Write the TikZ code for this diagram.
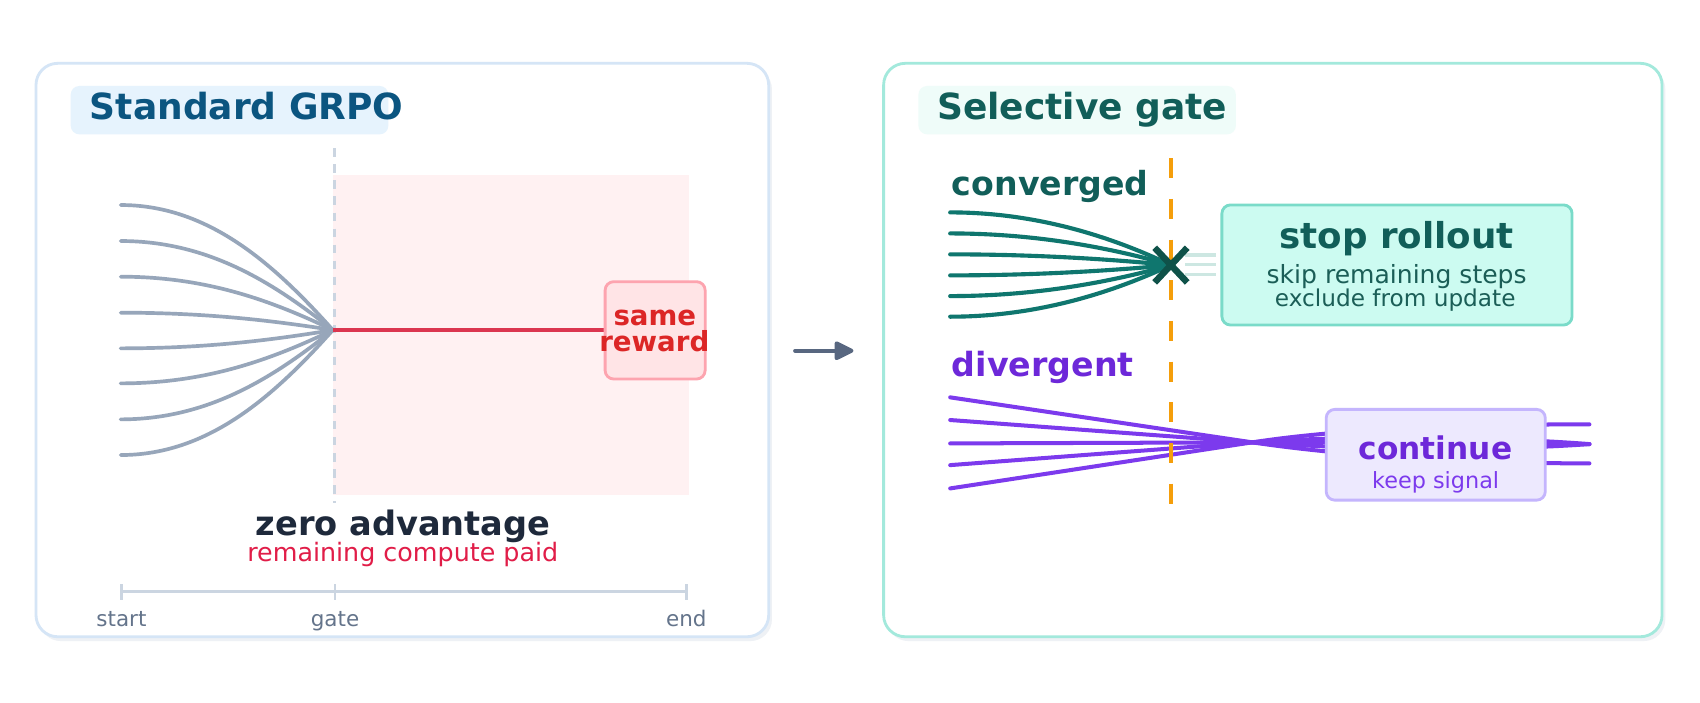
\documentclass[tikz,border=0pt]{standalone}
\usepackage{fontspec}
\setmainfont{DejaVu Sans}
\usetikzlibrary{arrows.meta}
\newcommand\myfs[1]{\fontsize{#1}{#1}\selectfont}
\definecolor{bordL}{HTML}{D5E5F6}
\definecolor{bordR}{HTML}{A3E9DC}
\definecolor{shadowc}{HTML}{EEF1F5}
\definecolor{tagL}{HTML}{E6F3FD}
\definecolor{tagR}{HTML}{EFFCF9}
\definecolor{titleL}{HTML}{0B5580}
\definecolor{tealdark}{HTML}{115E59}
\definecolor{tealline}{HTML}{0F766E}
\definecolor{tealsub}{HTML}{1B5E57}
\definecolor{xmark}{HTML}{0F5249}
\definecolor{faint}{HTML}{CDE7E2}
\definecolor{slatecurve}{HTML}{97A6BA}
\definecolor{slateaxis}{HTML}{CBD5E1}
\definecolor{slatelabel}{HTML}{64748B}
\definecolor{darktext}{HTML}{1E293B}
\definecolor{pinkbg}{HTML}{FFF1F2}
\definecolor{redline}{HTML}{DB3650}
\definecolor{redtext}{HTML}{DC2626}
\definecolor{rosetext}{HTML}{E11D48}
\definecolor{rosefill}{HTML}{FFE4E6}
\definecolor{rosebord}{HTML}{FDA4AF}
\definecolor{orangec}{HTML}{F59E0B}
\definecolor{stopfill}{HTML}{CCFBF1}
\definecolor{stopbord}{HTML}{7ADBC9}
\definecolor{violetfill}{HTML}{EDE9FE}
\definecolor{violetbord}{HTML}{C4B5FD}
\definecolor{violetdark}{HTML}{6D28D9}
\definecolor{violetline}{HTML}{7C3AED}
\definecolor{arrowc}{HTML}{586780}
\begin{document}
\begin{tikzpicture}[x=1pt,y=-1pt,
  lbl/.style={inner sep=0pt, outer sep=0pt, anchor=base},
  panelbox/.style={line width=2.6pt, fill=white, rounded corners=20pt},
  shadowbox/.style={fill=shadowc, rounded corners=20pt},
  tagbox/.style={rounded corners=8pt},
  graycurve/.style={draw=slatecurve, line width=3.4pt, line cap=round},
  tealcurve/.style={draw=tealline, line width=3.8pt, line cap=round},
  violetcurve/.style={draw=violetline, line width=3.7pt, line cap=round, line join=round},
  infobox/.style={line width=2.6pt, rounded corners=8pt},
]
\useasboundingbox (0,0) rectangle (1568,647.5);
\fill[white] (0,0) rectangle (1568,647.5);

% ---------- panels ----------
\fill[shadowbox] (36.2,62.4) rectangle (712,591.3);
\draw[panelbox, draw=bordL] (33.2,58.4) rectangle (709,587.3);
\fill[shadowbox] (818,62.4) rectangle (1536,591.3);
\draw[panelbox, draw=bordR] (815,58.4) rectangle (1533,587.3);

% ---------- left panel ----------
\fill[tagbox, fill=tagL] (65.2,79.3) rectangle (358.2,123.9);
\node[lbl, anchor=base west, text=titleL, font=\myfs{33.2}\bfseries] (titleL) at (83,109.8) {Standard GRPO};

\fill[pinkbg] (306.7,161.4) rectangle (635.6,456.6);
\draw[slateaxis, line width=2.4pt, dash pattern=on 7.7pt off 7.1pt] (308.4,136.8) -- (308.4,464.3);

\coordinate (gateL) at (307,304.4);
\foreach \y in {189.1,222.3,255.2,288.4,321.3,353.6,386.8,419.7} {
  \draw[graycurve] (111.3,\y) .. controls (190,\y) and (250,{304.4+(\y-304.4)*0.556}) .. (gateL);
}
\draw[redline, line width=4pt] (gateL) -- (558.1,304.4);
\draw[infobox, fill=rosefill, draw=rosebord] (558.1,259.8) rectangle (650.4,349.6);
\node[lbl, text=redtext, font=\myfs{25.5}\bfseries] (same) at (604,300.4) {same};
\node[lbl, text=redtext, font=\myfs{25.5}\bfseries] (reward) at (603.5,324.4) {reward};

\node[lbl, text=darktext, font=\myfs{31}\bfseries] (zeroadv) at (371.8,493.5) {zero advantage};
\node[lbl, text=rosetext, font=\myfs{23.4}] (paid) at (371.5,517.5) {remaining compute paid};

\draw[slateaxis, line width=2.6pt] (111.8,545.8) -- (633,545.8);
\foreach \x in {111.8,309,633} {
  \draw[slateaxis, line width=2.4pt] (\x,539) -- (\x,553);
}
\node[lbl, text=slatelabel, font=\myfs{19.8}] (start) at (112,578) {start};
\node[lbl, text=slatelabel, font=\myfs{19.8}] (gate) at (309,578) {gate};
\node[lbl, text=slatelabel, font=\myfs{19.8}] (end) at (633,578) {end};

% ---------- arrow between panels ----------
\coordinate (arrA) at (733.4,323.5);
\coordinate (arrB) at (787.2,323.5);
\draw[arrowc, line width=3.7pt, line cap=round, -{Triangle[length=20pt,width=18.4pt,round]}] (arrA) -- (arrB);

% ---------- right panel ----------
\fill[tagbox, fill=tagR] (847.1,79.3) rectangle (1139.9,123.9);
\node[lbl, anchor=base west, text=tealdark, font=\myfs{33.2}\bfseries] (titleR) at (864.4,109.8) {Selective gate};

\node[lbl, anchor=base west, text=tealdark, font=\myfs{30.6}\bfseries] (conv) at (878,179.9) {converged};
\node[lbl, anchor=base west, text=violetdark, font=\myfs{30.7}\bfseries] (div) at (878,347.5) {divergent};

% divergent rollouts (behind the continue box)
\foreach \yl/\cx/\cy/\ye in {366.5/1360/427.4/427.4, 387.4/1380/416/409.6, 409/1360/409.6/409.6, 429/1380/403/409.6, 450.5/1360/391.4/391.4} {
  \draw[violetcurve] (876.4,\yl) -- (1155,408) .. controls (1245,{408+(408-\yl)/278.6*90}) and (\cx,\cy) .. (1466,\ye);
}

% gate line
\draw[orangec, line width=4.3pt, dash pattern=on 18.5pt off 19pt] (1080,146) -- (1080,465);

% converged rollouts
\coordinate (xc) at (1080,244.5);
\foreach \y in {195.9,215.3,234.6,254,273.1,292.1} {
  \draw[tealcurve] (876.4,\y) .. controls (955,\y) and (1024,{244.5+(\y-244.5)*0.55}) .. (xc);
}
\foreach \y in {235.2,243.8,253} {
  \draw[faint, line width=2.8pt] (1093,\y) -- (1122,\y);
}
\draw[xmark, line width=6pt] (1065,228.5) -- (1095,260.5);
\draw[xmark, line width=6pt] (1065,260.5) -- (1095,228.5);

% stop rollout box
\draw[infobox, fill=stopfill, draw=stopbord] (1127,189) rectangle (1450,299.8);
\node[lbl, text=tealdark, font=\myfs{32.9}\bfseries] (stop) at (1288.1,229) {stop rollout};
\node[lbl, text=tealsub, font=\myfs{23.1}] (skip) at (1288.2,261.4) {skip remaining steps};
\node[lbl, text=tealsub, font=\myfs{21.4}] (excl) at (1286.9,282.3) {exclude from update};

% continue box
\draw[infobox, fill=violetfill, draw=violetbord] (1223.2,377.6) rectangle (1425.3,461.3);
\node[lbl, text=violetdark, font=\myfs{28.8}\bfseries] (cont) at (1324,423.7) {continue};
\node[lbl, text=violetline, font=\myfs{20.6}] (keep) at (1324.2,450.5) {keep signal};
\end{tikzpicture}
\end{document}
